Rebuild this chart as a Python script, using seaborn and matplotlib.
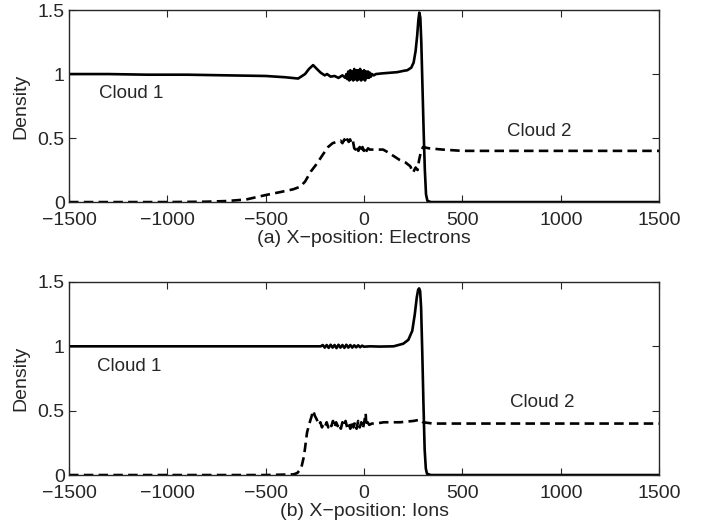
import numpy as np
import pandas as pd
import matplotlib
matplotlib.use("Agg")
import matplotlib.pyplot as plt
import seaborn as sns

# Electrons, cloud 1 (solid)
elec_x1 = [-1500, -1300, -1100, -900, -700, -500, -400, -335, -300, -280, -259, -240, -220, -200,
           -188, -170, -150, -130, -110, -95, -90, -85, -80, -75, -70, -65, -60, -55, -50, -45,
           -40, -35, -30, -25, -20, -15, -10, -5, 0, 5, 10, 15, 20, 25, 30, 35, 40, 50, 60, 90,
           130, 170, 200, 220, 240, 252, 262, 270, 276, 281, 286, 291, 297, 303, 309, 315, 322,
           340, 500, 800, 1500]
elec_y1 = [1.0, 1.0, 0.995, 0.995, 0.99, 0.985, 0.975, 0.965, 1.0, 1.04, 1.07, 1.04, 1.01, 0.99,
           1.0, 0.98, 0.985, 0.97, 0.99, 0.97, 1.0, 0.96, 1.02, 0.95, 1.03, 0.96, 1.02, 0.95, 1.04,
           0.96, 1.03, 0.95, 1.03, 0.96, 1.04, 0.95, 1.02, 0.96, 1.03, 0.95, 1.02, 0.97, 1.02,
           0.97, 1.01, 0.98, 1.0, 0.99, 1.0, 1.005, 1.01, 1.015, 1.025, 1.03, 1.05, 1.09, 1.18,
           1.3, 1.42, 1.48, 1.44, 1.25, 0.9, 0.55, 0.25, 0.06, 0.01, 0.0, 0.0, 0.0, 0.0]

# Electrons, cloud 2 (dashed)
elec_x2 = [-1500, -1000, -800, -700, -600, -500, -420, -360, -325, -300, -270, -240, -210, -183,
           -160, -140, -120, -110, -100, -92, -85, -78, -71, -64, -57, -50, -43, -36, -29, -22,
           -15, -8, -1, 6, 13, 20, 30, 50, 70, 97, 120, 150, 180, 210, 235, 249, 262, 272, 280,
           290, 300, 330, 400, 500, 700, 1000, 1500]
elec_y2 = [0.0, 0.0, 0.003, 0.008, 0.02, 0.055, 0.08, 0.1, 0.12, 0.16, 0.24, 0.3, 0.37, 0.43,
           0.46, 0.47, 0.48, 0.46, 0.49, 0.46, 0.49, 0.47, 0.49, 0.46, 0.48, 0.42, 0.41, 0.44,
           0.40, 0.43, 0.39, 0.43, 0.40, 0.43, 0.40, 0.42, 0.41, 0.41, 0.41, 0.41, 0.39, 0.36,
           0.33, 0.31, 0.28, 0.23, 0.27, 0.25, 0.33, 0.40, 0.43, 0.42, 0.41, 0.40, 0.40, 0.40,
           0.40]

# Ions, cloud 1 (solid)
ion_x1 = [-1500, -1200, -900, -600, -300, -220, -210, -200, -190, -180, -170, -160, -150, -140,
          -130, -120, -110, -100, -90, -80, -70, -60, -50, -40, -30, -20, -10, 0, 30, 80, 150,
          199, 225, 245, 258, 268, 275, 280, 285, 290, 296, 302, 308, 314, 320, 340, 500, 1000,
          1500]
ion_y1 = [1.0, 1.0, 1.0, 1.0, 1.0, 1.0, 1.01, 0.99, 1.01, 0.988, 1.012, 0.99, 1.01, 0.986,
          1.012, 0.99, 1.01, 0.988, 1.012, 0.99, 1.01, 0.99, 1.008, 0.992, 1.008, 0.993, 1.005,
          0.997, 1.0, 0.998, 1.0, 1.02, 1.05, 1.12, 1.25, 1.38, 1.44, 1.45, 1.43, 1.3, 0.95,
          0.55, 0.2, 0.05, 0.01, 0.0, 0.0, 0.0, 0.0]

# Ions, cloud 2 (dashed)
ion_x2 = [-1500, -1000, -500, -360, -340, -320, -305, -290, -278, -268, -259, -250, -240, -230,
          -222, -214, -206, -198, -190, -182, -174, -166, -158, -150, -142, -134, -126, -118,
          -110, -102, -94, -86, -78, -70, -62, -54, -46, -38, -30, -22, -14, -6, 2, 8, 12, 18,
          26, 40, 60, 100, 183, 250, 285, 300, 350, 500, 1000, 1500]
ion_y2 = [0.0, 0.0, 0.0, 0.005, 0.015, 0.05, 0.15, 0.33, 0.40, 0.45, 0.50, 0.46, 0.43, 0.39,
          0.41, 0.37, 0.40, 0.38, 0.41, 0.37, 0.40, 0.38, 0.42, 0.37, 0.41, 0.38, 0.40, 0.36,
          0.41, 0.38, 0.42, 0.37, 0.40, 0.36, 0.42, 0.37, 0.41, 0.36, 0.42, 0.37, 0.41, 0.36,
          0.42, 0.48, 0.38, 0.41, 0.39, 0.40, 0.40, 0.41, 0.41, 0.42, 0.43, 0.41, 0.40, 0.40,
          0.40, 0.40]

panels = [
    ("(a) X\u2212position: Electrons", elec_x1, elec_y1, elec_x2, elec_y2),
    ("(b) X\u2212position: Ions", ion_x1, ion_y1, ion_x2, ion_y2),
]
cloud1_pos = [(-1350, 0.85), (-1360, 0.84)]
cloud2_pos = [(727, 0.555), (742, 0.56)]

sns.set_style("ticks")
plt.rcParams["font.family"] = ["Liberation Sans", "DejaVu Sans"]
plt.rcParams["lines.dashed_pattern"] = [3.6, 2.0]

fig = plt.figure(figsize=(7.05, 5.29), dpi=100)
axes = [fig.add_axes([0.0979, 0.618, 0.837, 0.363]),
        fig.add_axes([0.0979, 0.102, 0.837, 0.365])]

for ax, (label, x1, y1, x2, y2), c1, c2 in zip(axes, panels, cloud1_pos, cloud2_pos):
    sns.lineplot(x=x1, y=y1, ax=ax, color="black", linewidth=1.9)
    sns.lineplot(x=x2, y=y2, ax=ax, color="black", linewidth=1.9, linestyle="--")
    ax.set_xlim(-1500, 1500)
    ax.set_ylim(0, 1.5)
    ax.set_xticks([-1500, -1000, -500, 0, 500, 1000, 1500])
    ax.set_xticklabels(["\u22121500", "\u22121000", "\u2212500", "0", "500", "1000", "1500"])
    ax.set_yticks([0, 0.5, 1, 1.5])
    ax.set_yticklabels(["0", "0.5", "1", "1.5"])
    ax.tick_params(direction="in", top=True, right=True, length=5, width=0.8,
                   labelsize=14)
    ax.tick_params(axis="x", pad=7)
    ax.tick_params(axis="y", pad=3)
    for sp in ax.spines.values():
        sp.set_visible(True)
        sp.set_linewidth(1.0)
    ax.set_xlabel(label, fontsize=14, labelpad=1)
    ax.set_ylabel("Density", fontsize=14, labelpad=6)
    ax.text(c1[0], c1[1], "Cloud 1", fontsize=13.5, va="center", ha="left")
    ax.text(c2[0], c2[1], "Cloud 2", fontsize=13.5, va="center", ha="left")

fig.savefig("out.png", dpi=100)
